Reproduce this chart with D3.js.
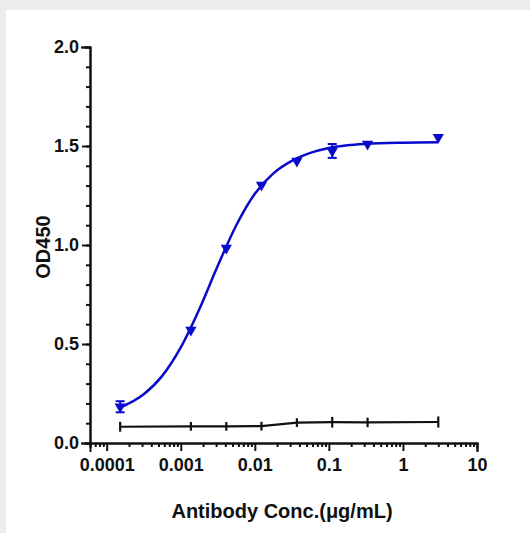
<!DOCTYPE html>
<html>
<head>
<meta charset="utf-8">
<script src="https://cdn.jsdelivr.net/npm/d3@7"></script>
<style>
  body { margin: 0; }
  text { font-family: "Liberation Sans", Arial, sans-serif; font-weight: bold; fill: #111; }
</style>
</head>
<body>
<div id="chart"></div>
<script>
// antibody concentrations (ug/mL), 3-fold dilution series
const concentrations = [0.000152, 0.00137, 0.00412, 0.0123, 0.037, 0.111, 0.333, 3]
// binding series (blue); 0 = error bar hidden behind the symbol
const positiveOD = [0.183, 0.571, 0.985, 1.303, 1.424, 1.475, 1.510, 1.544]
const positiveSD = [0.028, 0, 0, 0, 0, 0.035, 0, 0]
// control series (black)
const controlOD = [0.082, 0.084, 0.084, 0.085, 0.103, 0.105, 0.104, 0.106]
const controlSD = [0.025, 0.022, 0.022, 0.022, 0.022, 0.027, 0.024, 0.028]
// fitted curve
const fitConc = [0.000152, 0.000316, 0.000562, 0.001, 0.00178, 0.00316, 0.00562, 0.01, 0.0178, 0.0316, 0.0562, 0.1, 0.178, 0.316, 1, 3]
const fitOD = [0.179, 0.246, 0.339, 0.483, 0.676, 0.895, 1.100, 1.259, 1.362, 1.425, 1.465, 1.490, 1.504, 1.511, 1.517, 1.519]

const xTicks = [0.0001, 0.001, 0.01, 0.1, 1, 10]
const xTickLabels = ["0.0001", "0.001", "0.01", "0.1", "1", "10"]
const yTicks = [0, 0.5, 1.0, 1.5, 2.0]

const width = 530
const height = 533
const blue = "#0a0acc"

const svg = d3.select("#chart")
  .append("svg")
  .attr("width", width)
  .attr("height", height)

svg.append("rect").attr("width", width).attr("height", height).attr("fill", "#ececec")
svg.append("rect").attr("x", 6).attr("y", 10).attr("width", width - 6).attr("height", height - 10).attr("fill", "#fff")

const x = d3.scaleLog().domain([0.0000595, 10]).range([90, 477])
const y = d3.scaleLinear().domain([0, 2]).range([443, 47])

// y axis: minor then major
svg.append("g")
  .attr("transform", "translate(90,0)")
  .call(d3.axisLeft(y).tickValues(d3.range(0, 2.001, 0.1)).tickSize(4).tickFormat(""))
svg.append("g")
  .attr("transform", "translate(90,0)")
  .call(d3.axisLeft(y).tickValues(yTicks).tickSize(8).tickPadding(3).tickFormat(d3.format(".1f")))

// x axis
const minor = x.ticks().filter(d => xTicks.indexOf(d) < 0)
svg.append("g")
  .attr("transform", "translate(0,443)")
  .call(d3.axisBottom(x).tickValues(minor).tickSize(4).tickFormat(""))
svg.append("g")
  .attr("transform", "translate(0,443)")
  .call(d3.axisBottom(x).tickValues(xTicks).tickSize(8).tickPadding(7)
    .tickFormat((d, i) => xTickLabels[i]))

svg.selectAll(".domain, .tick line")
  .attr("stroke", "#111")
  .attr("stroke-width", 2)
svg.selectAll(".domain").attr("stroke-linecap", "square")
svg.selectAll(".tick text").attr("font-size", 18).attr("fill", "#111")

// control series
svg.append("path")
  .attr("d", d3.line().x((d, i) => x(concentrations[i])).y(d => y(d))(controlOD))
  .attr("fill", "none")
  .attr("stroke", "#111")
  .attr("stroke-width", 2.2)
svg.selectAll("line.ctrl")
  .data(controlOD)
  .enter()
    .append("line")
    .attr("class", "ctrl")
    .attr("x1", (d, i) => x(concentrations[i]))
    .attr("x2", (d, i) => x(concentrations[i]))
    .attr("y1", (d, i) => y(d - controlSD[i]))
    .attr("y2", (d, i) => y(d + controlSD[i]))
    .attr("stroke", "#111")
    .attr("stroke-width", 2.2)

// fitted curve
svg.append("path")
  .attr("d", d3.line().x((d, i) => x(fitConc[i])).y(d => y(d)).curve(d3.curveMonotoneX)(fitOD))
  .attr("fill", "none")
  .attr("stroke", blue)
  .attr("stroke-width", 2.5)

// error bars
const err = svg.append("g").attr("stroke", blue).attr("stroke-width", 2)
positiveOD.forEach((d, i) => {
  if (!positiveSD[i]) return
  const cx = x(concentrations[i])
  const lo = y(d - positiveSD[i])
  const hi = y(d + positiveSD[i])
  err.append("line").attr("x1", cx).attr("x2", cx).attr("y1", lo).attr("y2", hi)
  err.append("line").attr("x1", cx - 4.5).attr("x2", cx + 4.5).attr("y1", lo).attr("y2", lo)
  err.append("line").attr("x1", cx - 4.5).attr("x2", cx + 4.5).attr("y1", hi).attr("y2", hi)
})

// markers
svg.selectAll("path.marker")
  .data(positiveOD)
  .enter()
    .append("path")
    .attr("class", "marker")
    .attr("d", d3.symbol(d3.symbolTriangle, 55))
    .attr("transform", (d, i) => `translate(${x(concentrations[i])},${y(d)}) rotate(180)`)
    .attr("fill", blue)

// titles
svg.append("text")
  .attr("transform", "translate(50,247) rotate(-90)")
  .attr("text-anchor", "middle")
  .attr("font-size", 20)
  .text("OD450")
svg.append("text")
  .attr("x", 282)
  .attr("y", 518)
  .attr("text-anchor", "middle")
  .attr("font-size", 20)
  .text("Antibody Conc.(μg/mL)")
</script>
</body>
</html>
